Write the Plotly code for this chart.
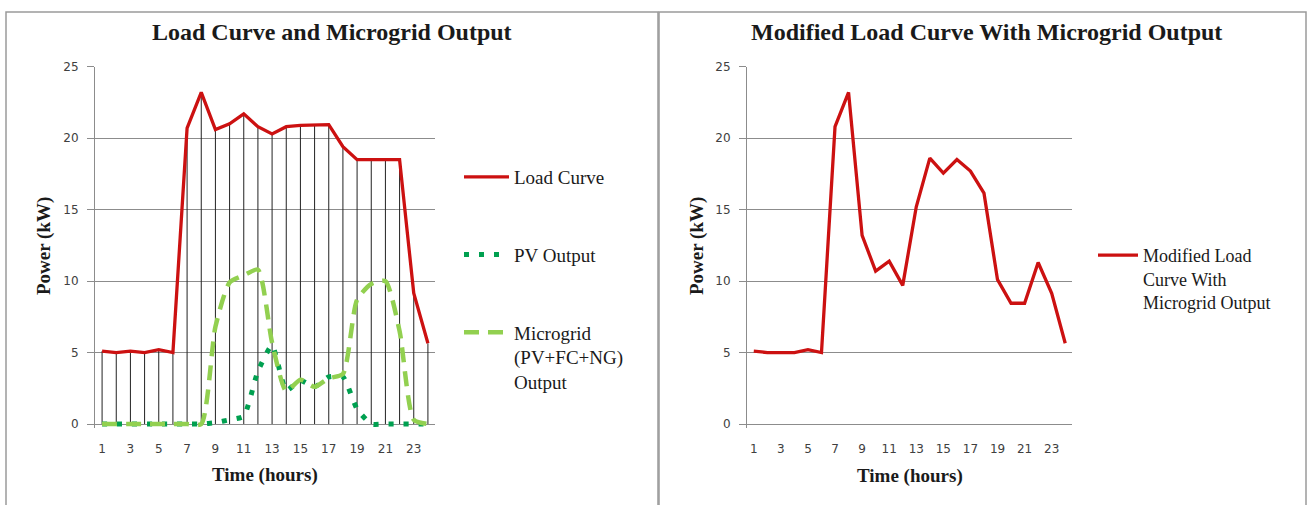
import plotly.graph_objects as go

hours = list(range(1, 25))
load = [5.1, 5.0, 5.1, 5.0, 5.2, 5.0, 20.7, 23.2, 20.6, 21.0, 21.7, 20.8,
        20.3, 20.8, 20.9, 20.95, 20.95, 19.4, 18.5, 18.5, 18.5, 18.5, 9.15, 5.65]
pv = [0, 0, 0, 0, 0, 0, 0, 0, 0.1, 0.3, 0.55, 3.7,
      5.5, 2.35, 3.05, 2.6, 3.3, 3.3, 1.05, 0, 0, 0, 0, 0]
micro = [0, 0, 0, 0, 0, 0, 0, 0, 6.8, 9.9, 10.4, 10.8,
         5.7, 2.3, 3.1, 2.6, 3.2, 3.5, 8.7, 9.8, 10.0, 6.5, 0.3, 0]
modified = [5.1, 5.0, 5.0, 5.0, 5.2, 5.0, 20.8, 23.2, 13.2, 10.7, 11.4, 9.7,
            15.2, 18.6, 17.55, 18.5, 17.7, 16.15, 10.1, 8.45, 8.45, 11.3, 9.15, 5.65]
x_ticks = [1, 3, 5, 7, 9, 11, 13, 15, 17, 19, 21, 23]
y_ticks = [0, 5, 10, 15, 20, 25]

W, H = 1308, 505
RED = "#CC1111"
SERIF = "Liberation Serif"
SANS = "DejaVu Sans"

fig = go.Figure()

# Left chart
fig.add_trace(go.Scatter(
    x=hours, y=load, mode="lines", name="Load Curve",
    line=dict(color=RED, width=3.3),
    error_y=dict(type="data", symmetric=False, array=[0] * len(load), arrayminus=load,
                 width=0, thickness=1, color="#222222"),
    xaxis="x", yaxis="y", legend="legend", legendgroup="a"))
fig.add_trace(go.Scatter(
    x=hours, y=pv, mode="lines", name="PV Output",
    line=dict(color="#00A050", width=5, dash="5px,10px", shape="spline", smoothing=0.5),
    xaxis="x", yaxis="y", legend="legend", legendgroup="b"))
fig.add_trace(go.Scatter(
    x=hours, y=micro, mode="lines", name="Microgrid<br>(PV+FC+NG)<br>Output",
    line=dict(color="#92D050", width=4.5, dash="15px,9px", shape="spline", smoothing=0.6),
    xaxis="x", yaxis="y", legend="legend", legendgroup="c"))

# Right chart
fig.add_trace(go.Scatter(
    x=hours, y=modified, mode="lines", name="Modified Load<br>Curve With<br>Microgrid Output",
    line=dict(color=RED, width=3.3),
    xaxis="x2", yaxis="y2", legend="legend2"))

def px_x(v):
    return v / W

def px_y(v):
    return (H - v) / H

yr = [-0.25, 25]
ydom = [px_y(427.6), px_y(66.7)]

xaxis_common = dict(range=[0.5, 24.5], tickmode="array", tickvals=x_ticks,
                    showgrid=False, zeroline=False, showline=False, ticks="",
                    ticklabelstandoff=12, automargin=False, fixedrange=True,
                    tickfont=dict(family=SANS, size=12, color="#404040"))
yaxis_common = dict(range=yr, tickmode="array", tickvals=y_ticks,
                    showgrid=True, gridcolor="#8C8C8C", gridwidth=1,
                    zeroline=True, zerolinecolor="#8C8C8C", zerolinewidth=1,
                    showline=True, linecolor="#8C8C8C", linewidth=1,
                    ticks="outside", ticklen=7, tickcolor="#8C8C8C",
                    ticklabelstandoff=6, automargin=False, fixedrange=True,
                    tickfont=dict(family=SANS, size=12, color="#404040"))

fig.update_layout(
    width=W, height=H, autosize=False,
    margin=dict(l=0, r=0, t=0, b=0, pad=0, autoexpand=False),
    paper_bgcolor="white", plot_bgcolor="white",
    xaxis=dict(domain=[px_x(95), px_x(435)], anchor="y", **xaxis_common),
    yaxis=dict(domain=ydom, anchor="x", **yaxis_common),
    xaxis2=dict(domain=[px_x(747), px_x(1072)], anchor="y2", **xaxis_common),
    yaxis2=dict(domain=ydom, anchor="x2", **yaxis_common),
    legend=dict(x=px_x(459), y=px_y(158), xanchor="left", yanchor="top",
                font=dict(family=SERIF, size=19, color="#1a1a1a"),
                traceorder="grouped", tracegroupgap=50, valign="top",
                bgcolor="rgba(0,0,0,0)", itemwidth=45),
    legend2=dict(x=px_x(1093), y=px_y(237), xanchor="left", yanchor="top",
                 font=dict(family=SERIF, size=18, color="#1a1a1a"),
                 valign="top", bgcolor="rgba(0,0,0,0)", itemwidth=40),
    showlegend=True,
)

ann = []
def text(x, y, s, size, angle=0):
    ann.append(dict(x=px_x(x), y=px_y(y), xref="paper", yref="paper", text=s,
                    showarrow=False, xanchor="center", yanchor="middle", textangle=angle,
                    font=dict(family=SERIF, size=size, color="#1a1a1a")))

text(332, 32, "<b>Load Curve and Microgrid Output</b>", 24)
text(986, 32, "<b>Modified Load Curve With Microgrid Output</b>", 24)
text(265, 475, "<b>Time (hours)</b>", 19)
text(910, 476, "<b>Time (hours)</b>", 19)
text(44, 246, "<b>Power (kW)</b>", 19, angle=-90)
text(697, 246, "<b>Power (kW)</b>", 19, angle=-90)
fig.update_layout(annotations=ann)

# panel borders
shapes = []
for x0, x1 in [(6, 658), (659, 1306)]:
    shapes.append(dict(type="rect", xref="paper", yref="paper",
                       x0=px_x(x0), x1=px_x(x1), y0=px_y(520), y1=px_y(12),
                       line=dict(color="#9A9A9A", width=1.5), fillcolor="rgba(0,0,0,0)",
                       layer="below"))
fig.update_layout(shapes=shapes)

fig.write_html("out.html", config={"displayModeBar": False, "staticPlot": True},
               post_script="document.body.style.margin='0';document.body.style.overflow='hidden';")
